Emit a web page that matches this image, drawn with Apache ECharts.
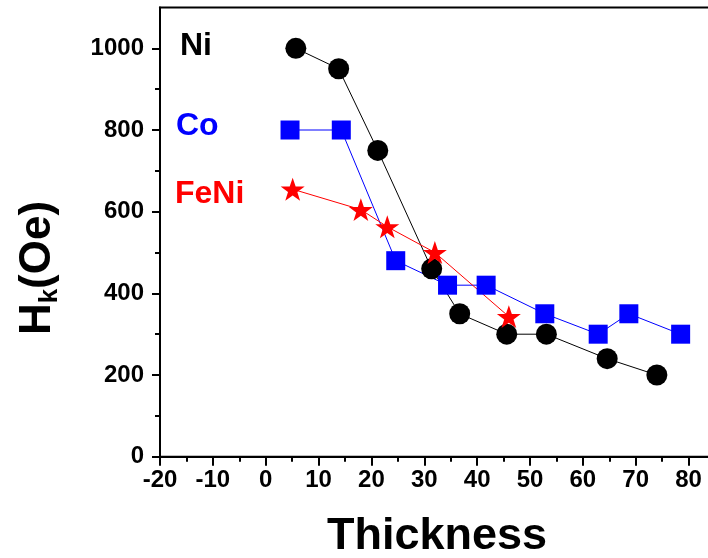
<!DOCTYPE html>
<html>
<head>
<meta charset="utf-8">
<script src="https://cdn.jsdelivr.net/npm/echarts@6/dist/echarts.min.js"></script>
<style>
html,body{margin:0;padding:0;background:#fff;}
#chart{width:708px;height:558px;}
</style>
</head>
<body>
<div id="chart"></div>
<script>
// ---- data ----
var niX = [5.7, 13.8, 21.2, 31.4, 36.7, 45.6, 53.1, 64.6, 74.0];
var niY = [1000, 950, 750, 460, 350, 300, 300, 240, 200];
var coX = [4.6, 14.3, 24.6, 34.4, 41.7, 52.8, 62.9, 68.7, 78.5];
var coY = [800, 800, 480, 420, 420, 350, 300, 350, 300];
var feniX = [5.1, 18.0, 23.0, 32.0, 46.0];
var feniY = [655, 605, 563, 500, 343];
var xMajorTicks = [-20, -10, 0, 10, 20, 30, 40, 50, 60, 70, 80];
var xMinorTicks = [-15, -5, 5, 15, 25, 35, 45, 55, 65, 75];
var yMajorTicks = [0, 200, 400, 600, 800, 1000];
var yMinorTicks = [100, 300, 500, 700, 900];
var seriesNames = ['Ni', 'Co', 'FeNi'];

function pairs(xs, ys) { return xs.map(function (x, i) { return [x, ys[i]]; }); }

var FONT = "'Liberation Sans', Arial, sans-serif";
var starPath = 'path://M50,0 L61.8,35.1 L97.6,35.1 L68.5,56.7 L79.4,91 L50,70 L20.6,91 L31.5,56.7 L2.4,35.1 L38.2,35.1 Z';

var chart = echarts.init(document.getElementById('chart'), null, {renderer: 'canvas'});

var axisLineStyle = {color: '#000', width: 2};
var hiddenLine = {color: '#000', width: 0, opacity: 0};
function plain(v) { return String(v); }

var gridBox = {left: 160, top: 7.5, width: 555, height: 449.2, containLabel: false, outerBoundsMode: 'none'};

var option = {
  animation: false,
  backgroundColor: '#fff',
  grid: [
    Object.assign({show: true, borderColor: '#000', borderWidth: 2, backgroundColor: 'transparent'}, gridBox),
    Object.assign({show: false}, gridBox)
  ],
  xAxis: [{
    gridIndex: 0, type: 'value', min: -20, max: 85, position: 'bottom',
    axisLine: {show: true, onZero: false, lineStyle: axisLineStyle},
    axisTick: {show: true, inside: false, length: 9, lineStyle: {color: '#000', width: 2}, customValues: xMajorTicks},
    axisLabel: {show: true, margin: 12, color: '#000', fontFamily: FONT, fontWeight: 'bold', fontSize: 24, customValues: xMajorTicks, formatter: plain},
    splitLine: {show: false}
  }, {
    gridIndex: 1, type: 'value', min: -20, max: 85, position: 'bottom',
    axisLine: {show: true, onZero: false, lineStyle: hiddenLine},
    axisTick: {show: true, inside: false, length: 5, lineStyle: {color: '#000', width: 2}, customValues: xMinorTicks},
    axisLabel: {show: false},
    splitLine: {show: false}
  }],
  yAxis: [{
    gridIndex: 0, type: 'value', min: 0, max: 1100, position: 'left',
    axisLine: {show: true, onZero: false, lineStyle: axisLineStyle},
    axisTick: {show: true, inside: false, length: 8, lineStyle: {color: '#000', width: 2}, customValues: yMajorTicks},
    axisLabel: {show: true, margin: 16, color: '#000', fontFamily: FONT, fontWeight: 'bold', fontSize: 24, customValues: yMajorTicks, formatter: plain},
    splitLine: {show: false}
  }, {
    gridIndex: 1, type: 'value', min: 0, max: 1100, position: 'left',
    axisLine: {show: true, onZero: false, lineStyle: hiddenLine},
    axisTick: {show: true, inside: false, length: 5, lineStyle: {color: '#000', width: 2}, customValues: yMinorTicks},
    axisLabel: {show: false},
    splitLine: {show: false}
  }],
  graphic: [
    {type: 'text', x: 180, y: 46, style: {text: seriesNames[0], fill: '#000', font: 'bold 32px ' + FONT, textVerticalAlign: 'middle'}},
    {type: 'text', x: 176, y: 126, style: {text: seriesNames[1], fill: '#0000ff', font: 'bold 32px ' + FONT, textVerticalAlign: 'middle'}},
    {type: 'text', x: 175, y: 194, style: {text: seriesNames[2], fill: '#ff0000', font: 'bold 32px ' + FONT, textVerticalAlign: 'middle'}},
    {type: 'text', x: 437, y: 537, style: {text: 'Thickness', fill: '#000', font: 'bold 45px ' + FONT, textAlign: 'center', textVerticalAlign: 'middle'}},
    {type: 'text', x: 38, y: 268, rotation: Math.PI / 2,
      style: {
        text: '{a|H}{b|k}{a|(Oe)}', fill: '#000', textAlign: 'center', textVerticalAlign: 'middle',
        rich: {
          a: {fontFamily: FONT, fontWeight: 'bold', fontSize: 44, fill: '#000', lineHeight: 50},
          b: {fontFamily: FONT, fontWeight: 'bold', fontSize: 26, fill: '#000', verticalAlign: 'bottom', lineHeight: 30}
        }
      }}
  ],
  series: [{
    name: 'Ni', type: 'line', xAxisIndex: 0, yAxisIndex: 0,
    data: pairs(niX, niY),
    symbol: 'circle', symbolSize: 21,
    itemStyle: {color: '#000'},
    lineStyle: {color: '#000', width: 1}
  }, {
    name: 'Co', type: 'line', xAxisIndex: 0, yAxisIndex: 0,
    data: pairs(coX, coY),
    symbol: 'rect', symbolSize: 19,
    itemStyle: {color: '#0000ff'},
    lineStyle: {color: '#0000ff', width: 1}
  }, {
    name: 'FeNi', type: 'line', xAxisIndex: 0, yAxisIndex: 0,
    data: pairs(feniX, feniY),
    symbol: starPath, symbolSize: 24, symbolKeepAspect: true,
    itemStyle: {color: '#ff0000'},
    lineStyle: {color: '#ff0000', width: 1}
  }]
};
chart.setOption(option);
</script>
</body>
</html>
